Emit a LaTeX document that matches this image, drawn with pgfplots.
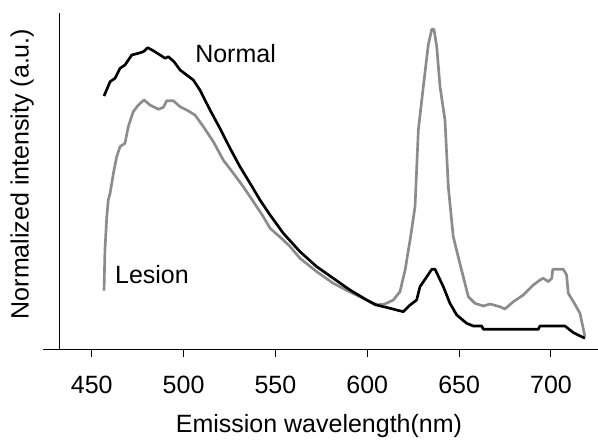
\documentclass[border=0pt]{standalone}
\usepackage{fontspec}
\setmainfont{Liberation Sans}
\usepackage{pgfplots}
\pgfplotsset{compat=1.18}
\definecolor{LesionGray}{HTML}{8C8C8C}

\pgfplotstableread{
w y
456.7 254.0
460.0 268.3
462.7 271.7
465.4 281.7
468.1 285.0
471.8 295.0
475.4 296.7
478.1 298.3
480.5 302.3
483.5 299.3
487.2 295.0
490.0 291.7
491.7 293.3
494.8 288.3
498.1 280.0
501.7 275.0
505.3 270.0
508.9 260.0
514.4 240.0
519.8 221.7
525.3 201.7
530.7 183.3
536.2 166.7
541.6 150.0
547.1 135.0
554.3 116.7
563.4 98.3
572.5 83.3
581.5 71.7
590.6 60.0
599.7 50.0
605.1 45.0
612.4 41.7
619.6 38.3
623.3 45.0
626.9 50.0
628.7 63.3
632.4 73.3
635.1 80.7
636.9 80.7
641.4 63.3
645.0 46.7
648.7 35.0
654.1 26.7
657.7 24.0
662.3 24.0
663.2 20.7
693.1 20.7
694.0 24.0
707.6 24.0
712.2 17.3
718.5 11.7
}\normaltab

\pgfplotstableread{
w y
456.7 59.3
457.2 100.0
458.2 133.3
459.0 150.0
460.0 156.7
461.8 176.7
463.6 193.3
465.4 203.3
468.1 206.7
469.9 223.3
472.6 238.3
475.4 245.0
478.5 250.0
481.7 245.0
486.3 240.7
489.0 242.7
490.8 249.3
494.4 249.3
498.1 243.3
501.7 240.0
506.2 235.0
510.8 223.3
516.2 208.3
521.6 190.0
527.1 176.7
532.5 163.3
538.0 148.3
543.4 133.3
547.1 121.7
554.3 110.0
558.0 103.3
563.4 91.7
572.5 78.3
581.5 66.7
590.6 58.0
599.7 50.0
604.2 45.0
609.6 46.0
614.2 50.0
617.8 58.3
620.6 80.0
623.3 110.0
626.0 143.3
627.8 220.0
630.5 263.3
633.2 305.0
635.1 320.7
636.3 320.7
637.8 303.3
639.6 263.3
642.3 230.0
644.1 163.3
646.8 113.3
650.4 86.7
655.0 53.3
658.6 46.7
663.2 44.0
666.8 46.0
672.2 43.3
674.9 41.0
679.5 48.3
684.9 55.0
690.4 65.0
694.0 70.0
695.8 71.7
698.6 68.3
700.4 71.7
701.0 80.7
706.7 80.7
708.5 75.0
709.4 56.7
712.2 48.3
715.8 36.7
718.5 13.3
}\lesiontab

\begin{document}
\fontsize{18.75}{22}\selectfont
\begin{tikzpicture}
\useasboundingbox (-32pt,-68.25pt) rectangle (416.5pt,262.5pt);
\begin{axis}[
  at={(0,0)}, anchor=south west,
  scale only axis, width=416.5pt, height=252.75pt,
  xmin=423.3, xmax=725.6, ymin=0, ymax=337,
  axis x line=bottom, axis y line=none,
  axis line style={-, line width=0.75pt, black},
  xtick={450,500,550,600,650,700},
  xticklabels={450,500,550,600,650,700},
  ytick=\empty,
  tick align=outside, major tick length=5.25pt,
  tick style={black, line width=0.75pt},
  xticklabel style={font=\fontsize{18.75}{22}\selectfont, anchor=base, yshift=-27pt},
  clip=false,
]
\addplot[LesionGray, line width=2pt, line join=round] table[x=w,y=y] {\lesiontab};
\addplot[black, line width=2pt, line join=round] table[x=w,y=y] {\normaltab};
\draw[line width=0.75pt] (axis cs:432.2,0) -- (axis cs:432.2,337);
\node at (axis cs:528.3,296) {Normal};
\node at (axis cs:482.8,75) {Lesion};
\node at (axis cs:573.7,-76) {Emission wavelength(nm)};
\node[rotate=90] at (axis cs:412.1,176) {Normalized intensity (a.u.)};
\end{axis}
\end{tikzpicture}
\end{document}
